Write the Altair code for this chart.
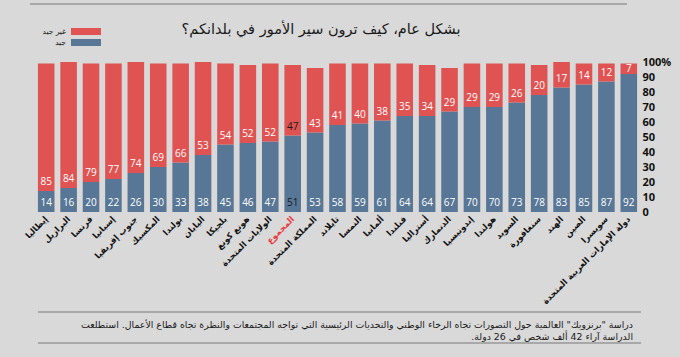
import altair as alt
import pandas as pd

countries = ["إيطاليا", "البرازيل", "فرنسا", "إسبانيا", "جنوب إفريقيا", "المكسيك", "بولندا",
             "اليابان", "بلجيكا", "هونغ كونغ", "الولايات المتحدة", "المجموع", "المملكة المتحدة",
             "تايلاند", "النمسا", "ألمانيا", "فنلندا", "أستراليا", "الدنمارك", "إندونيسيا",
             "هولندا", "السويد", "سنغافورة", "الهند", "الصين", "سويسرا",
             "دولة الإمارات العربية المتحدة"]
good = [14, 16, 20, 22, 26, 30, 33, 38, 45, 46, 47, 51, 53, 58, 59, 61, 64, 64, 67, 70, 70, 73, 78, 83, 85, 87, 92]
bad_labels = [85, 84, 79, 77, 74, 69, 66, 53, 54, 52, 52, 47, 43, 41, 40, 38, 35, 34, 29, 29, 29, 26, 20, 17, 14, 12, 7]
# red segment heights as drawn (Japan's bar is drawn to 100 although labelled 53)
bad_drawn = [85, 84, 79, 77, 74, 69, 66, 62, 54, 52, 52, 47, 43, 41, 40, 38, 35, 34, 29, 29, 29, 26, 20, 17, 14, 12, 7]
y_ticks = [0, 10, 20, 30, 40, 50, 60, 70, 80, 90, 100]

title_text = "بشكل عام، كيف ترون سير الأمور في بلدانكم؟"
legend_bad = "غير جيد"
legend_good = "جيد"
note_1 = "دراسة \"برنزويك\" العالمية حول التصورات تجاه الرخاء الوطني والتحديات الرئيسية التي تواجه المجتمعات والنظرة تجاه قطاع الأعمال. استطلعت"
note_2 = "الدراسة آراء 42 ألف شخص في 26 دولة.\u200f"

RED = "#e05353"
BLUE = "#587796"
BG = "#d9d9d9"

df = pd.DataFrame({"country": countries, "good": good, "bad": bad_drawn, "bad_label": bad_labels})

W, H = 605, 150

base = alt.Chart(df).encode(
    x=alt.X("country:N", sort=None,
            scale=alt.Scale(paddingInner=0.26, paddingOuter=0.13),
            axis=alt.Axis(title=None, labelAngle=-45, labelAlign="right", labelBaseline="middle",
                          labelPadding=5, ticks=False, domain=False, labelFontSize=8.5,
                          labelFontWeight="bold", labelFont="DejaVu Sans", labelLimit=300,
                          labelColor={"condition": {"test": "datum.value == 'المجموع'", "value": "#e8383d"},
                                      "value": "#111111"}))
)

yscale = alt.Scale(domain=[0, 100], nice=False)
yaxis = alt.Axis(title=None, orient="right", values=y_ticks, grid=False, domain=False, ticks=False,
                 labelExpr="datum.value == 100 ? '100%' : datum.label", labelFontWeight="bold",
                 labelFontSize=11, labelColor="#111111", labelAlign="left", labelPadding=2,
                 labelFont="Open Sans")

blue = base.mark_bar(color=BLUE).encode(
    y=alt.Y("good:Q", scale=yscale, axis=yaxis),
    y2=alt.datum(0),
)
red = base.transform_calculate(top="datum.good + datum.bad").mark_bar(color=RED).encode(
    y=alt.Y("top:Q", scale=yscale, axis=yaxis),
    y2=alt.Y2("good:Q"),
)
txt_color = alt.condition("datum.country == 'المجموع'", alt.value("#1a1a1a"), alt.value("white"))
good_txt = base.mark_text(fontSize=10, baseline="middle", dy=-9, font="Open Sans").encode(
    y=alt.Y("zero:Q", scale=yscale, axis=yaxis),
    text="good:Q",
    color=txt_color,
).transform_calculate(zero="0")
bad_txt = base.transform_calculate(
    ly="datum.good + min(6, datum.bad / 2)"
).mark_text(fontSize=10, baseline="middle", font="Open Sans").encode(
    y=alt.Y("ly:Q", scale=yscale, axis=yaxis),
    text="bad_label:Q",
    color=txt_color,
)

one = alt.Chart(pd.DataFrame({"a": [0]}))

def rule(x1, x2, y):
    return one.mark_rule(color="#a8a8a8", strokeWidth=2).encode(
        x=alt.value(x1), x2=alt.value(x2), y=alt.value(y))

def label(t, x, y, size, align="right", color="#1a1a1a", weight="normal"):
    return one.mark_text(text=t, fontSize=size, align=align, baseline="middle", color=color,
                         font="DejaVu Sans", fontWeight=weight).encode(
        x=alt.value(x), y=alt.value(y))

def swatch(x1, x2, y1, y2, c):
    return one.mark_rect(color=c).encode(
        x=alt.value(x1), x2=alt.value(x2), y=alt.value(y1), y2=alt.value(y2))

decor = [
    rule(-5, 592, -58),
    rule(3, 606, 250),
    rule(3, 606, 281),
    label(title_text, 286, -32, 14.5, align="center", color="#1a1a1a"),
    swatch(36, 66, -34, -27, RED),
    swatch(36, 66, -23, -16, BLUE),
    label(legend_bad, 31, -30.5, 7.5),
    label(legend_good, 31, -19.5, 7.5),
    label(note_1, 598, 263, 9.4),
    label(note_2, 598, 275, 9.4),
]

chart = alt.layer(blue, red, good_txt, bad_txt, *decor).properties(
    width=W, height=H,
    autosize=alt.AutoSizeParams(type="none"),
    padding={"left": 35, "top": 62, "right": 40, "bottom": 145},
    background=BG,
).configure_view(stroke=None)

chart.save("out.html", embed_options={"renderer": "svg", "actions": False})
